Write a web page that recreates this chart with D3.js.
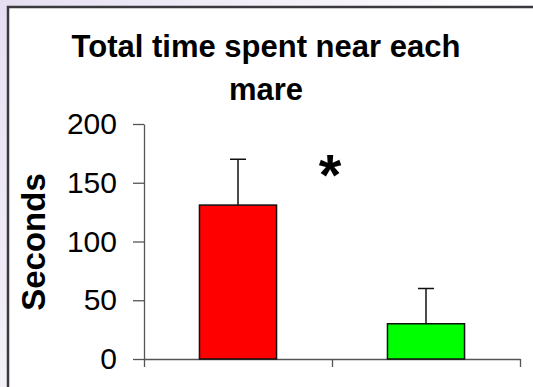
<!DOCTYPE html>
<html><head><meta charset="utf-8">
<script src="https://cdn.jsdelivr.net/npm/d3@7"></script>
<style>
html,body{margin:0;padding:0;background:#fff;}
svg{display:block;font-family:Arial,"Liberation Sans",sans-serif;}
</style></head>
<body>
<script>
const categories = ["Mare 1", "Mare 2"];
const values = [131, 30];
const errors = [39, 30];
const colors = ["#ff0000", "#00ff00"];
const yTicks = [0, 50, 100, 150, 200];
const titleLines = ["Total time spent near each", "mare"];
const yLabel = "Seconds";
const marker = "*";

const W = 533, H = 387;
const svg = d3.select("body").append("svg").attr("width", W).attr("height", H);

const defs = svg.append("defs");
const g1 = defs.append("linearGradient").attr("id","bg").attr("x1","0").attr("y1","0").attr("x2","0").attr("y2","1");
g1.append("stop").attr("offset","0").attr("stop-color","#e6dff2");
g1.append("stop").attr("offset","1").attr("stop-color","#f4f1f8");
const g2 = defs.append("linearGradient").attr("id","bgTop").attr("x1","0").attr("y1","0").attr("x2","1").attr("y2","0");
g2.append("stop").attr("offset","0").attr("stop-color","#e6dff2");
g2.append("stop").attr("offset","1").attr("stop-color","#ffffff");

svg.append("rect").attr("x",0).attr("y",0).attr("width",8).attr("height",H).attr("fill","url(#bg)");
svg.append("rect").attr("x",0).attr("y",0).attr("width",W).attr("height",7).attr("fill","url(#bgTop)");
svg.append("rect").attr("x",8).attr("y",7).attr("width",W-8).attr("height",H-7).attr("fill","#fff");
// frame
svg.append("path").attr("d",`M8,${H} V7 H${W}`).attr("fill","none").attr("stroke","#3a3a3e").attr("stroke-width",2.5);

const x = d3.scaleBand().domain(categories).range([144, 520]).paddingInner(0).paddingOuter(0);
const y = d3.scaleLinear().domain([0, 200]).range([359, 124]);

// title
svg.append("text").attr("x", 266).attr("y", 57).attr("text-anchor","middle")
  .attr("font-weight","bold").attr("font-size", 31).attr("fill","#000").text(titleLines[0]);
svg.append("text").attr("x", 266).attr("y", 100).attr("text-anchor","middle")
  .attr("font-weight","bold").attr("font-size", 31).attr("fill","#000").text(titleLines[1]);

// y axis
const yAxis = svg.append("g").attr("transform","translate(144,0)")
  .call(d3.axisLeft(y).tickValues(yTicks).tickSize(11).tickPadding(16).tickSizeOuter(0));
yAxis.select(".domain").attr("stroke","#555").attr("stroke-width",1.3);
yAxis.selectAll(".tick line").attr("stroke","#555").attr("stroke-width",1.3);
yAxis.selectAll(".tick text").attr("font-size",30).attr("fill","#000")
  .attr("font-family","Arial,'Liberation Sans',sans-serif");

// x axis
const xAxis = svg.append("g").attr("transform","translate(0,359)")
  .call(d3.axisBottom(d3.scaleLinear().domain([0,2]).range([144,520])).tickValues([0,1,2]).tickSize(8).tickFormat("").tickSizeOuter(0));
xAxis.select(".domain").attr("stroke","#555").attr("stroke-width",1.3);
xAxis.selectAll(".tick line").attr("stroke","#555").attr("stroke-width",1.3);

// y label
svg.append("text").attr("transform","translate(45,242) rotate(-90)").attr("text-anchor","middle")
  .attr("font-weight","bold").attr("font-size",33).attr("fill","#000").text(yLabel);

// bars
const bw = x.bandwidth() * 0.41;
const data = categories.map((c,i)=>({c, v: values[i], e: errors[i], col: colors[i]}));
svg.selectAll("rect.bar").data(data).join("rect").attr("class","bar")
  .attr("x", d => x(d.c) + x.bandwidth()/2 - bw/2)
  .attr("y", d => y(d.v))
  .attr("width", bw)
  .attr("height", d => y(0) - y(d.v))
  .attr("fill", d => d.col)
  .attr("stroke","#111").attr("stroke-width",1.5);

// error bars
const capW = 16;
svg.selectAll("line.err").data(data).join("line").attr("class","err")
  .attr("x1", d => x(d.c) + x.bandwidth()/2).attr("x2", d => x(d.c) + x.bandwidth()/2)
  .attr("y1", d => y(d.v)).attr("y2", d => y(d.v + d.e))
  .attr("stroke","#111").attr("stroke-width",1.5);
svg.selectAll("line.cap").data(data).join("line").attr("class","cap")
  .attr("x1", d => x(d.c) + x.bandwidth()/2 - capW/2).attr("x2", d => x(d.c) + x.bandwidth()/2 + capW/2)
  .attr("y1", d => y(d.v + d.e)).attr("y2", d => y(d.v + d.e))
  .attr("stroke","#111").attr("stroke-width",1.5);

// significance marker
svg.append("text").attr("x", 330).attr("y", 195).attr("text-anchor","middle")
  .attr("font-weight","bold").attr("font-size",58).attr("fill","#000").text(marker);
</script>
</body></html>
